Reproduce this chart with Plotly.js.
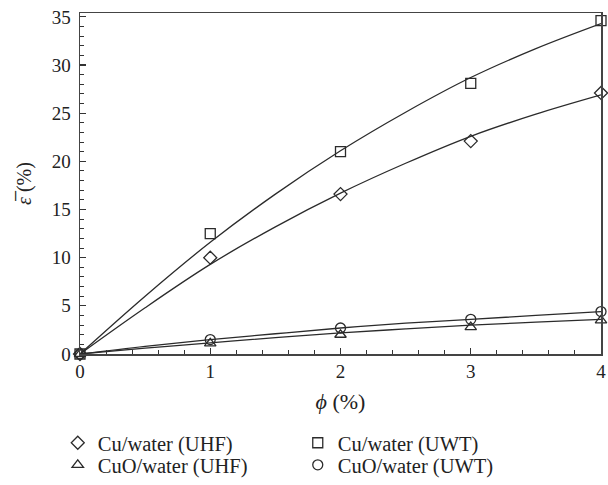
<!DOCTYPE html>
<html>
<head>
<meta charset="utf-8">
<script src="https://cdn.plot.ly/plotly-3.0.1.min.js"></script>
<style>html,body{margin:0;padding:0;background:#fff;}#chart{width:608px;height:485px;}</style>
</head>
<body>
<div id="chart"></div>
<script>
// Measured points (phi in %)
const phi = [0, 1, 2, 3, 4];
const cuUHF = [0, 10.0, 16.6, 22.1, 27.1];
const cuUWT = [0, 12.5, 21.0, 28.1, 34.6];
const cuoUHF = [0, 1.1, 2.0, 2.8, 3.5];
const cuoUWT = [0, 1.5, 2.7, 3.6, 4.4];

// Fitted curves
const phiFit = [0, 0.5, 1, 1.5, 2, 2.5, 3, 3.5, 4];
const cuUHFfit = [0, 4.8, 9.3, 13.2, 16.7, 19.8, 22.6, 24.9, 26.9];
const cuUWTfit = [0, 6.0, 11.6, 16.6, 21.1, 25.1, 28.7, 31.7, 34.3];
const cuoUHFfit = [0, 0.6, 1.15, 1.7, 2.2, 2.6, 3.0, 3.3, 3.6];
const cuoUWTfit = [0, 0.8, 1.5, 2.1, 2.7, 3.2, 3.6, 4.0, 4.4];

const names = ['Cu/water (UHF)', 'Cu/water (UWT)', 'CuO/water (UHF)', 'CuO/water (UWT)'];
const symbols = ['diamond-open', 'square-open', 'triangle-up-open', 'circle-open'];
const legendRow = ['legend', 'legend', 'legend2', 'legend2'];
const pts = [cuUHF, cuUWT, cuoUHF, cuoUWT];
const fits = [cuUHFfit, cuUWTfit, cuoUHFfit, cuoUWTfit];

const ink = '#2b2b2b';
const traces = [];
fits.forEach(f => traces.push({
  x: phiFit, y: f, mode: 'lines', line: {color: ink, width: 1.3, shape: 'spline'},
  showlegend: false, hoverinfo: 'skip', cliponaxis: false
}));
pts.forEach((p, i) => traces.push({
  x: phi, y: p, mode: 'markers', name: names[i], legend: legendRow[i],
  marker: {symbol: symbols[i], size: 10, color: ink, line: {width: 1.3, color: ink}},
  cliponaxis: false
}));

const font = {family: 'Liberation Serif, DejaVu Serif, serif', color: '#222'};
function legendAt(y, anchor) {
  return {
    orientation: 'h', xref: 'container', yref: 'container',
    x: 0.095, xanchor: 'left', y: y, yanchor: anchor,
    entrywidth: 195, entrywidthmode: 'pixels',
    font: Object.assign({size: 20.5}, font), itemwidth: 30, traceorder: 'normal',
    bgcolor: 'rgba(0,0,0,0)'
  };
}
const layout = {
  width: 608, height: 485,
  margin: {l: 80, r: 7, t: 13, b: 131, autoexpand: false},
  paper_bgcolor: '#fff', plot_bgcolor: '#fff',
  font: Object.assign({size: 19}, font),
  showlegend: true,
  legend: legendAt(0.128, 'top'),
  legend2: legendAt(-0.012, 'bottom'),
  xaxis: {
    range: [0, 4], dtick: 1, tick0: 0,
    ticks: 'inside', ticklen: 6, tickcolor: '#333', tickwidth: 1.2,
    minor: {dtick: 0.2, ticks: 'inside', ticklen: 4, tickcolor: '#333', tickwidth: 1},
    showline: true, linecolor: '#444', linewidth: 1.5, mirror: true,
    showgrid: false, zeroline: false,
    tickfont: Object.assign({size: 19}, font),
    title: {text: '<i>ϕ</i> (%)', font: Object.assign({size: 22}, font), standoff: 12}
  },
  yaxis: {
    range: [0, 35.4], dtick: 5, tick0: 0,
    ticks: 'inside', ticklen: 6, tickcolor: '#333', tickwidth: 1.2,
    ticklabelstandoff: 4,
    minor: {dtick: 1, ticks: 'inside', ticklen: 4, tickcolor: '#333', tickwidth: 1},
    showline: true, linecolor: '#444', linewidth: 1.5, mirror: true,
    showgrid: false, zeroline: false,
    tickfont: Object.assign({size: 19}, font),
    title: {text: '<i>ε̅</i> (%)', font: Object.assign({size: 20}, font), standoff: 14}
  }
};

Plotly.newPlot('chart', traces, layout, {staticPlot: true, displayModeBar: false});
</script>
</body>
</html>
